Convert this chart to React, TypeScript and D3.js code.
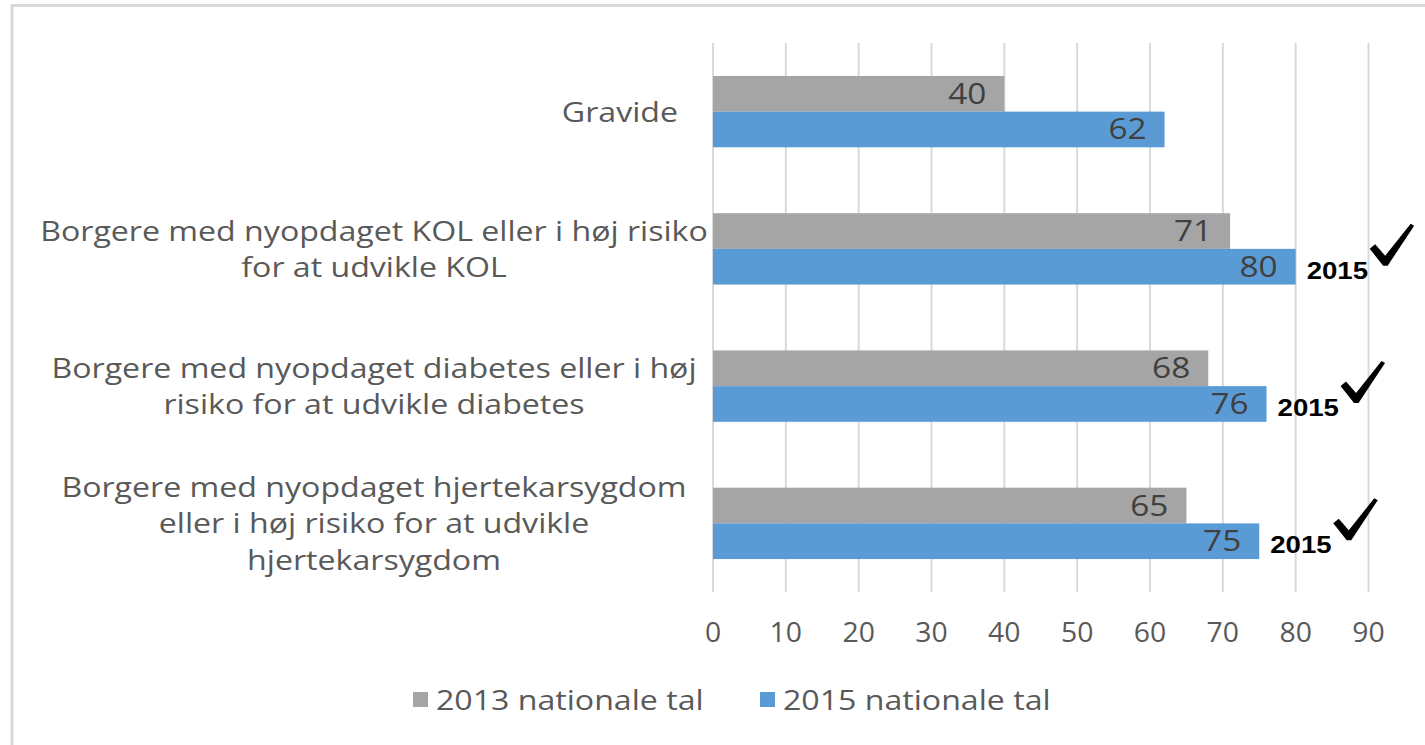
import React from "react";
import * as d3 from "d3";

const categories = [
  ["Gravide"],
  ["Borgere med nyopdaget KOL eller i høj risiko", "for at udvikle KOL"],
  ["Borgere med nyopdaget diabetes eller i høj", "risiko for at udvikle diabetes"],
  ["Borgere med nyopdaget hjertekarsygdom", "eller i høj risiko for at udvikle", "hjertekarsygdom"],
];
const series2013 = [40, 71, 68, 65];
const series2015 = [62, 80, 76, 75];
const seriesNames = ["2013 nationale tal", "2015 nationale tal"];
const annotated = [false, true, true, true];
const annotationText = "2015";
const ticks = [0, 10, 20, 30, 40, 50, 60, 70, 80, 90];

const W = 1425;
const H = 745;
const GRAY = "#a5a5a5";
const BLUE = "#5b9bd5";
const GRID = "#d9d9d9";
const TXT = "#595959";
const FONT = "'Open Sans', sans-serif";
const SX = 1.19;

function SText(props: any) {
  const { x, y, sx = SX, anchor = "start", children, ...rest } = props;
  return (
    <text transform={`translate(${x},${y}) scale(${sx},1)`} textAnchor={anchor} {...rest}>
      {children}
    </text>
  );
}

export default function App() {
  const x = d3.scaleLinear().domain([0, 90]).range([713, 1368.5]);
  const ids = categories.map((_, i) => String(i));
  const y = d3.scaleBand().domain(ids).range([43, 592]).paddingInner(0.48).paddingOuter(0.24);
  const sub = d3.scaleBand().domain(["a", "b"]).range([0, y.bandwidth()]);
  const lineH = 36.5;

  return (
    <svg width={W} height={H} style={{ position: "absolute", left: 0, top: 0 }} fontFamily={FONT}>
      <rect x={0} y={0} width={W} height={H} fill="#fff" />
      <rect x={12} y={5.5} width={W + 20} height={H + 20} fill="none" stroke={GRID} strokeWidth={3} />
      {ticks.map((t) => (
        <line key={t} x1={x(t)} x2={x(t)} y1={43} y2={592} stroke={GRID} strokeWidth={2} />
      ))}
      {ticks.map((t) => (
        <SText key={"t" + t} x={x(t)} y={642} anchor="middle" sx={1.05} fontSize={27} fill={TXT}>
          {t}
        </SText>
      ))}
      {categories.map((lines, i) => {
        const cy = (y(String(i)) as number) + y.bandwidth() / 2;
        const single = lines.length === 1;
        return (
          <g key={"c" + i}>
            {lines.map((ln, j) => (
              <SText
                key={j}
                x={single ? 678 : 374}
                y={cy + (j - (lines.length - 1) / 2) * lineH + 10}
                anchor={single ? "end" : "middle"}
                fontSize={27}
                fill={TXT}
              >
                {ln}
              </SText>
            ))}
          </g>
        );
      })}
      {categories.map((_, i) => {
        const y0 = y(String(i)) as number;
        const ya = y0 + (sub("a") as number);
        const yb = y0 + (sub("b") as number);
        const bw = sub.bandwidth();
        const ex = x(series2015[i]);
        const cyb = yb + bw / 2;
        return (
          <g key={"b" + i}>
            <rect x={x(0)} y={ya} width={x(series2013[i]) - x(0)} height={bw} fill={GRAY} />
            <rect x={x(0)} y={yb} width={x(series2015[i]) - x(0)} height={bw} fill={BLUE} />
            <SText x={x(series2013[i]) - 18} y={ya + bw / 2 + 10} anchor="end" sx={1.15} fontSize={29} fill="#404040">
              {series2013[i]}
            </SText>
            <SText x={x(series2015[i]) - 18} y={cyb + 10} anchor="end" sx={1.15} fontSize={29} fill="#404040">
              {series2015[i]}
            </SText>
            {annotated[i] && (
              <g>
                <SText x={ex + 11} y={cyb + 12} sx={1.15} fontFamily="'Liberation Sans', Arial, sans-serif" fontWeight="bold" fontSize={24} fill="#000">
                  {annotationText}
                </SText>
                <path
                  transform={`translate(${ex + 74},${cyb - 43})`}
                  d="M0,25 L5.5,20.5 L15.5,32 L41,0 L44.5,2 L18,42 L13.5,42 Z"
                  fill="#000"
                />
              </g>
            )}
          </g>
        );
      })}
      {seriesNames.map((s, i) => {
        const lx = i === 0 ? 413 : 760;
        return (
          <g key={"l" + i}>
            <rect x={lx} y={692} width={15} height={15} fill={i === 0 ? GRAY : BLUE} />
            <SText x={lx + 23} y={710} fontSize={27} fill={TXT}>
              {s}
            </SText>
          </g>
        );
      })}
    </svg>
  );
}
